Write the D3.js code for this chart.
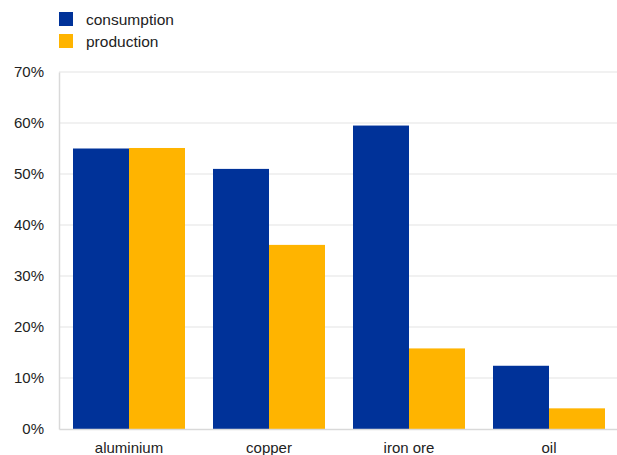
<!DOCTYPE html>
<html>
<head>
<meta charset="utf-8">
<script src="https://cdn.jsdelivr.net/npm/d3@7/dist/d3.min.js"></script>
<style>
  body { margin: 0; background: #fff; }
  svg { font-family: "Liberation Sans", Arial, sans-serif; }
  .axis text { font-size: 15px; fill: #222; }
</style>
</head>
<body>
<svg id="chart" width="617" height="455"></svg>
<script>
var categories = ["aluminium", "copper", "iron ore", "oil"];
var seriesNames = ["consumption", "production"];
var consumption = [55.0, 51.0, 59.5, 12.4];
var production = [55.1, 36.1, 15.8, 4.05];
var yTicks = [0, 10, 20, 30, 40, 50, 60, 70];
var colors = ["#003299", "#ffb400"];

var params = {
  "svg": { "width": 617, "height": 455 },
  "margin": { "top": 72, "right": -2, "bottom": 26, "left": 59 }
};
params["plot"] = {
  "x": params.margin.left,
  "y": params.margin.top,
  "width": params.svg.width - params.margin.left - params.margin.right,
  "height": params.svg.height - params.margin.top - params.margin.bottom
};

var table = categories.map(function(c, i) {
  return { "category": c, "values": [consumption[i], production[i]] };
});

var scale = {
  "x": d3.scaleBand().domain(categories).range([0, params.plot.width])
    .paddingInner(0.2).paddingOuter(0.1),
  "y": d3.scaleLinear().domain([0, 70]).range([params.plot.height, 0])
};
scale["series"] = d3.scaleBand().domain(d3.range(seriesNames.length))
  .range([0, scale.x.bandwidth()]);

var svg = d3.select("#chart");
var plot = svg.append("g")
  .attr("transform", "translate(" + params.plot.x + "," + params.plot.y + ")");

// gridlines
plot.append("g").selectAll("line")
  .data(yTicks.filter(function(t) { return t > 0; }))
  .join("line")
  .attr("x1", 0).attr("x2", params.plot.width)
  .attr("y1", function(d) { return scale.y(d); })
  .attr("y2", function(d) { return scale.y(d); })
  .attr("stroke", "#e3e3e3").attr("stroke-width", 1);

// bars
var groups = plot.selectAll("g.cat")
  .data(table)
  .join("g")
  .attr("class", "cat")
  .attr("transform", function(d) { return "translate(" + scale.x(d.category) + ",0)"; });

groups.selectAll("rect")
  .data(function(d) { return d.values; })
  .join("rect")
  .attr("x", function(d, i) { return scale.series(i); })
  .attr("y", function(d) { return scale.y(d); })
  .attr("width", scale.series.bandwidth())
  .attr("height", function(d) { return params.plot.height - scale.y(d); })
  .attr("fill", function(d, i) { return colors[i]; });

// axes
var gy = plot.append("g").attr("class", "axis")
  .call(d3.axisLeft(scale.y).tickValues(yTicks).tickSize(0).tickPadding(15)
    .tickFormat(function(d) { return d + "%"; }));
gy.select(".domain").attr("stroke", "#d9d9d9").attr("stroke-width", 1.5);

var gx = plot.append("g").attr("class", "axis")
  .attr("transform", "translate(0," + params.plot.height + ")")
  .call(d3.axisBottom(scale.x).tickSize(0).tickPadding(13));
gx.select(".domain").attr("stroke", "#d9d9d9").attr("stroke-width", 1.5);

// legend
var legend = svg.append("g").attr("transform", "translate(59,12)");
var items = legend.selectAll("g")
  .data(seriesNames)
  .join("g")
  .attr("transform", function(d, i) { return "translate(0," + (i * 22) + ")"; });
items.append("rect")
  .attr("width", 14).attr("height", 14)
  .attr("fill", function(d, i) { return colors[i]; });
items.append("text")
  .attr("x", 27).attr("y", 12.5)
  .attr("font-size", 15.5)
  .attr("fill", "#222")
  .text(function(d) { return d; });
</script>
</body>
</html>
